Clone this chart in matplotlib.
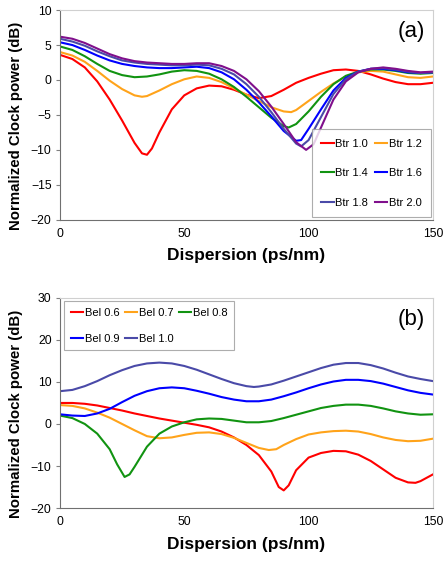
import matplotlib
matplotlib.use("Agg")
import matplotlib.pyplot as plt

plt.rcParams['font.family'] = ['Liberation Sans', 'DejaVu Sans']

# ---- panel (a) data : Btr series ----
btr_labels = ["Btr 1.0", "Btr 1.2", "Btr 1.4", "Btr 1.6", "Btr 1.8", "Btr 2.0"]

btr10_x = [0, 5, 10, 15, 20, 25, 30, 33, 35, 37, 40, 45, 50, 55, 60, 65, 70, 75, 80, 85, 90, 95, 100, 105, 110, 115, 120, 125, 130, 135, 140, 145, 150]
btr10_y = [3.6, 3.0, 1.8, -0.2, -2.8, -5.8, -9.0, -10.5, -10.7, -9.8, -7.5, -4.2, -2.2, -1.2, -0.8, -0.9, -1.4, -2.1, -2.6, -2.3, -1.4, -0.4, 0.3, 0.9, 1.4, 1.5, 1.3, 0.8, 0.2, -0.3, -0.6, -0.6, -0.4]

btr12_x = [0, 5, 10, 15, 20, 25, 30, 33, 35, 40, 45, 50, 55, 60, 65, 70, 75, 80, 85, 90, 93, 95, 100, 105, 110, 115, 120, 125, 130, 135, 140, 145, 150]
btr12_y = [4.0, 3.5, 2.6, 1.3, -0.1, -1.3, -2.2, -2.4, -2.3, -1.5, -0.6, 0.1, 0.5, 0.3, -0.3, -1.2, -2.1, -3.0, -3.9, -4.5, -4.6, -4.3, -3.0, -1.7, -0.5, 0.5, 1.1, 1.3, 1.2, 0.8, 0.4, 0.3, 0.5]

btr14_x = [0, 5, 10, 15, 20, 25, 30, 35, 40, 45, 50, 55, 60, 65, 70, 75, 80, 85, 90, 92, 95, 100, 105, 110, 115, 120, 125, 130, 135, 140, 145, 150]
btr14_y = [4.8, 4.3, 3.4, 2.3, 1.3, 0.7, 0.4, 0.5, 0.8, 1.2, 1.4, 1.3, 0.9, 0.1, -1.0, -2.4, -3.9, -5.4, -6.6, -6.8, -6.3, -4.5, -2.4, -0.6, 0.6, 1.2, 1.5, 1.5, 1.3, 1.0, 0.9, 1.0]

btr16_x = [0, 5, 10, 15, 20, 25, 30, 35, 40, 45, 50, 55, 60, 65, 70, 75, 80, 85, 90, 95, 97, 100, 105, 110, 115, 120, 125, 130, 135, 140, 145, 150]
btr16_y = [5.4, 5.0, 4.3, 3.5, 2.8, 2.3, 2.0, 1.8, 1.7, 1.7, 1.8, 1.9, 1.7, 1.1, 0.1, -1.4, -3.2, -5.2, -7.3, -8.7, -8.6, -7.0, -4.2, -1.5, 0.3, 1.2, 1.6, 1.6, 1.4, 1.1, 1.0, 1.1]

btr18_x = [0, 5, 10, 15, 20, 25, 30, 35, 40, 45, 50, 55, 60, 65, 70, 75, 80, 85, 90, 95, 97, 100, 105, 110, 115, 120, 125, 130, 135, 140, 145, 150]
btr18_y = [5.9, 5.5, 4.9, 4.1, 3.4, 2.8, 2.5, 2.3, 2.2, 2.1, 2.1, 2.2, 2.1, 1.6, 0.8, -0.6, -2.4, -4.6, -7.0, -9.1, -9.5, -8.6, -5.3, -2.0, 0.1, 1.2, 1.6, 1.7, 1.5, 1.2, 1.0, 1.1]

btr20_x = [0, 5, 10, 15, 20, 25, 30, 35, 40, 45, 50, 55, 60, 65, 70, 75, 80, 85, 90, 95, 99, 102, 105, 110, 115, 120, 125, 130, 135, 140, 145, 150]
btr20_y = [6.2, 5.9, 5.3, 4.5, 3.7, 3.1, 2.7, 2.5, 2.4, 2.3, 2.3, 2.4, 2.4, 2.0, 1.3, 0.1, -1.6, -3.8, -6.3, -8.9, -10.0, -9.2, -6.8, -2.8, -0.2, 1.1, 1.6, 1.8, 1.6, 1.3, 1.1, 1.2]

# ---- panel (b) data : Bel series ----
bel_labels = ["Bel 0.6", "Bel 0.7", "Bel 0.8", "Bel 0.9", "Bel 1.0"]

bel06_x = [0, 5, 10, 15, 20, 25, 30, 35, 40, 45, 50, 55, 60, 65, 70, 75, 80, 85, 88, 90, 92, 95, 100, 105, 110, 115, 120, 125, 130, 135, 140, 143, 145, 150]
bel06_y = [5.0, 5.0, 4.8, 4.4, 3.8, 3.2, 2.5, 1.9, 1.3, 0.8, 0.3, -0.2, -0.8, -1.8, -3.2, -5.0, -7.4, -11.3, -15.0, -15.8, -14.6, -11.0, -8.0, -6.9, -6.4, -6.5, -7.3, -8.8, -10.8, -12.8, -13.9, -14.0, -13.6, -12.0]

bel07_x = [0, 5, 10, 15, 20, 25, 30, 35, 40, 45, 50, 55, 60, 65, 70, 75, 80, 84, 87, 90, 95, 100, 105, 110, 115, 120, 125, 130, 135, 140, 145, 150]
bel07_y = [4.5, 4.3, 3.7, 2.7, 1.5, 0.0, -1.5, -2.9, -3.4, -3.2, -2.6, -2.1, -2.0, -2.4, -3.3, -4.5, -5.7, -6.2, -6.0, -5.0, -3.6, -2.5, -2.0, -1.7, -1.6, -1.8, -2.4, -3.2, -3.8, -4.1, -4.0, -3.5]

bel08_x = [0, 5, 10, 15, 20, 23, 26, 28, 30, 35, 40, 45, 50, 55, 60, 65, 70, 75, 80, 85, 90, 95, 100, 105, 110, 115, 120, 125, 130, 135, 140, 145, 150]
bel08_y = [2.0, 1.4, 0.0, -2.3, -6.0, -9.6, -12.6, -12.0, -10.2, -5.4, -2.3, -0.6, 0.4, 1.1, 1.3, 1.2, 0.8, 0.4, 0.4, 0.7, 1.4, 2.2, 3.0, 3.8, 4.3, 4.6, 4.6, 4.3, 3.7, 3.0, 2.5, 2.2, 2.3]

bel09_x = [0, 5, 10, 15, 20, 25, 30, 35, 40, 45, 50, 55, 60, 65, 70, 75, 80, 85, 90, 95, 100, 105, 110, 115, 120, 125, 130, 135, 140, 145, 150]
bel09_y = [2.3, 2.0, 1.9, 2.5, 3.6, 5.2, 6.7, 7.8, 8.5, 8.7, 8.5, 7.9, 7.2, 6.4, 5.8, 5.4, 5.4, 5.8, 6.6, 7.5, 8.5, 9.4, 10.1, 10.5, 10.5, 10.2, 9.6, 8.8, 8.0, 7.4, 7.0]

bel10_x = [0, 5, 10, 15, 20, 25, 30, 35, 40, 45, 50, 55, 60, 65, 70, 75, 78, 80, 85, 90, 95, 100, 105, 110, 115, 120, 125, 130, 135, 140, 145, 150]
bel10_y = [7.8, 8.1, 9.0, 10.2, 11.6, 12.8, 13.8, 14.4, 14.6, 14.4, 13.8, 12.9, 11.8, 10.7, 9.7, 9.0, 8.8, 8.9, 9.4, 10.3, 11.3, 12.3, 13.3, 14.1, 14.5, 14.5, 14.0, 13.2, 12.2, 11.3, 10.7, 10.2]

colors_a = ["#ff0000", "#ffa31a", "#119311", "#0000ff", "#4a4aa8", "#800f8c"]
colors_b = ["#ff0000", "#ffa31a", "#119311", "#0000ff", "#4a4aa8"]

fig = plt.figure(figsize=(4.44, 5.62), dpi=100)
ax1 = fig.add_axes([0.135, 0.609, 0.840, 0.373])
ax2 = fig.add_axes([0.135, 0.096, 0.840, 0.374])


def style(ax, ymin, ymax, step):
    ax.set_xlim(0, 150)
    ax.set_ylim(ymin, ymax)
    ax.set_xticks([0, 50, 100, 150])
    ax.set_yticks(range(ymin, ymax + 1, step))
    for s in ["top", "right"]:
        ax.spines[s].set_color("#d0d0d0")
        ax.spines[s].set_linewidth(0.8)
    for s in ["left", "bottom"]:
        ax.spines[s].set_color("#707070")
        ax.spines[s].set_linewidth(0.8)
    ax.tick_params(labelsize=8.8, color="#808080", width=0.8)
    ax.tick_params(axis="x", length=0, pad=6)
    ax.tick_params(axis="y", length=3, pad=3)
    ax.set_xlabel("Dispersion (ps/nm)", fontsize=12.5, fontweight="bold", labelpad=6)
    ax.set_ylabel("Normalized Clock power (dB)", fontsize=10.8, fontweight="bold")
    ax.yaxis.set_label_coords(-0.10, 0.45)


def row_major(ax, order):
    h, l = ax.get_legend_handles_labels()
    return [h[i] for i in order], [l[i] for i in order]


series_a = [(btr10_x, btr10_y), (btr12_x, btr12_y), (btr14_x, btr14_y),
            (btr16_x, btr16_y), (btr18_x, btr18_y), (btr20_x, btr20_y)]
for (xs, ys), c, lab in zip(series_a, colors_a, btr_labels):
    ax1.plot(xs, ys, color=c, lw=1.5, label=lab)
style(ax1, -20, 10, 5)
ax1.text(0.978, 0.87, "(a)", transform=ax1.transAxes, fontsize=16, ha="right")
h, l = row_major(ax1, [0, 2, 4, 1, 3, 5])
leg1 = ax1.legend(h, l, ncol=2, loc="lower right", bbox_to_anchor=(0.995, 0.012), fontsize=8,
                  frameon=True, fancybox=False, edgecolor="#999999", handlelength=1.1,
                  handletextpad=0.15, columnspacing=0.6, labelspacing=1.75, borderpad=0.85,
                  borderaxespad=0)
leg1.get_frame().set_linewidth(0.8)

series_b = [(bel06_x, bel06_y), (bel07_x, bel07_y), (bel08_x, bel08_y),
            (bel09_x, bel09_y), (bel10_x, bel10_y)]
for (xs, ys), c, lab in zip(series_b, colors_b, bel_labels):
    ax2.plot(xs, ys, color=c, lw=1.5, label=lab)
style(ax2, -20, 30, 10)
ax2.text(0.978, 0.87, "(b)", transform=ax2.transAxes, fontsize=16, ha="right")
h, l = row_major(ax2, [0, 3, 1, 4, 2])
leg2 = ax2.legend(h, l, ncol=3, loc="upper left", bbox_to_anchor=(0.011, 0.985), fontsize=8,
                  frameon=True, fancybox=False, edgecolor="#999999", handlelength=1.1,
                  handletextpad=0.15, columnspacing=0.5, labelspacing=1.45, borderpad=0.6,
                  borderaxespad=0)
leg2.get_frame().set_linewidth(0.8)

fig.savefig("out.png", dpi=100)
